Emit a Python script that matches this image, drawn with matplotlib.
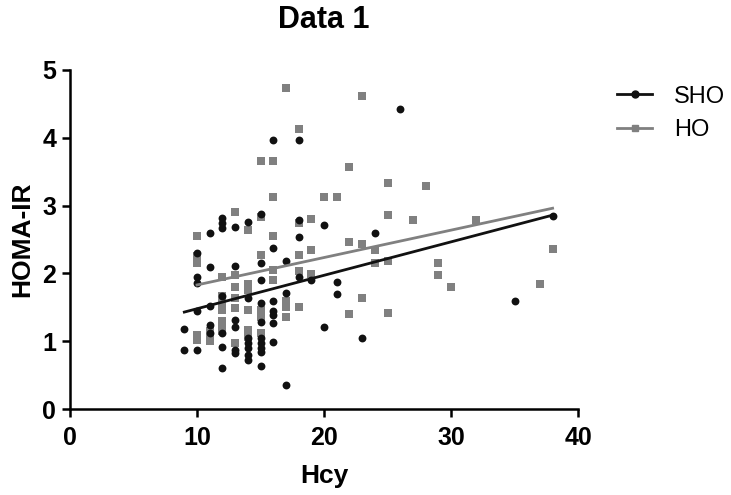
"""Scatter of HOMA-IR against Hcy for the SHO and HO groups, with linear fits."""

import matplotlib
matplotlib.use('Agg')
import matplotlib.pyplot as plt

plt.rcParams['font.family'] = ['Liberation Sans', 'DejaVu Sans']

# SHO group (black circles)
sho_x = [9, 9,
         10, 10, 10, 10, 10,
         11, 11, 11, 11, 11,
         12, 12, 12, 12, 12, 12, 12,
         13, 13, 13, 13, 13, 13,
         14, 14, 14, 14, 14, 14, 14,
         15, 15, 15, 15, 15, 15, 15, 15, 15, 15,
         16, 16, 16, 16, 16, 16, 16,
         17, 17, 17,
         18, 18, 18, 18,
         19, 20, 20, 21, 21, 23, 24, 26, 35, 38]
sho_y = [1.18, 0.87,
         2.30, 1.95, 1.86, 1.44, 0.87,
         2.60, 2.09, 1.52, 1.24, 1.12,
         2.82, 2.75, 2.67, 1.67, 1.12, 0.92, 0.60,
         2.69, 2.11, 1.31, 1.21, 0.87, 0.82,
         2.76, 1.64, 1.05, 0.97, 0.90, 0.80, 0.72,
         2.88, 2.15, 1.90, 1.56, 1.29, 1.05, 0.97, 0.90, 0.84, 0.63,
         3.97, 2.37, 1.60, 1.45, 1.38, 1.27, 0.99,
         2.19, 1.71, 0.35,
         3.97, 2.79, 2.54, 1.95,
         1.90, 2.71, 1.21, 1.87, 1.69, 1.05, 2.59, 4.43, 1.59, 2.85]

# HO group (grey squares)
ho_x = [10, 10, 10, 10, 10,
        11, 11, 11,
        12, 12, 12, 12, 12, 12, 12,
        13, 13, 13, 13, 13, 13,
        14, 14, 14, 14, 14, 14,
        15, 15, 15, 15, 15, 15,
        16, 16, 16, 16, 16,
        17, 17, 17, 17,
        18, 18, 18, 18, 18,
        19, 19, 19,
        20, 21, 22, 22, 22, 23, 23, 23, 24, 24,
        25, 25, 25, 25, 27, 28, 29, 29, 30, 32, 37, 38]
ho_y = [2.55, 2.25, 2.15, 1.09, 1.02,
        1.15, 1.05, 1.00,
        1.95, 1.66, 1.55, 1.46, 1.30, 1.24, 1.15,
        2.91, 1.98, 1.80, 1.63, 1.49, 0.97,
        2.64, 1.85, 1.75, 1.46, 1.16, 1.06,
        3.66, 2.83, 2.27, 1.46, 1.35, 1.12,
        3.66, 3.13, 2.55, 2.05, 1.90,
        4.73, 1.60, 1.50, 1.36,
        4.13, 2.74, 2.27, 2.03, 1.51,
        2.80, 2.35, 1.99,
        3.12, 3.13, 3.57, 2.46, 1.40, 4.61, 2.43, 1.63, 2.34, 2.15,
        3.33, 2.86, 2.18, 1.42, 2.79, 3.29, 2.15, 1.98, 1.80, 2.79, 1.85, 2.36]

# linear fits: (slope, intercept, x range)
sho_fit = (0.0493, 0.986, [9, 38])
ho_fit = (0.0404, 1.426, [10, 38])

BLACK = '#111111'
GREY = '#808080'

fig = plt.figure(figsize=(7.31, 4.95), dpi=100)
ax = fig.add_axes([0.0958, 0.1737, 0.6949, 0.6849])

ax.scatter(sho_x, sho_y, s=32, marker='o', color=BLACK, linewidths=0, clip_on=False, zorder=3)
ax.scatter(ho_x, ho_y, s=36, marker='s', color=GREY, linewidths=0, clip_on=False, zorder=2)

for (slope, icpt, xr), color in ((sho_fit, BLACK), (ho_fit, GREY)):
    ax.plot(xr, [slope * x + icpt for x in xr], color=color, linewidth=2.0, zorder=4)

ax.set_xlim(0, 40)
ax.set_ylim(0, 5)
ax.set_xticks([0, 10, 20, 30, 40])
ax.set_yticks([0, 1, 2, 3, 4, 5])
for side in ('top', 'right'):
    ax.spines[side].set_visible(False)
for side in ('left', 'bottom'):
    ax.spines[side].set_linewidth(1.8)
ax.tick_params(width=1.8, length=6, labelsize=18)
ax.tick_params(axis='x', pad=6)
ax.tick_params(axis='y', pad=4)
for lab in ax.get_xticklabels() + ax.get_yticklabels():
    lab.set_fontweight('bold')

ax.set_xlabel('Hcy', fontsize=19, fontweight='bold', labelpad=10)
ax.set_ylabel('HOMA-IR', fontsize=19, fontweight='bold', labelpad=6)
ax.set_title('Data 1', fontsize=22, fontweight='bold', pad=30)

# legend entries: line with marker, like the plotting program draws them
h1, = ax.plot([], [], color=BLACK, linewidth=2.0, marker='o', markersize=5)
h2, = ax.plot([], [], color=GREY, linewidth=2.0, marker='s', markersize=5)
fig.legend([h1, h2], ['SHO', 'HO'], loc='upper left', bbox_to_anchor=(0.815, 0.87),
           frameon=False, fontsize=17, handlelength=1.5, handletextpad=0.9,
           labelspacing=0.5)

fig.savefig('out.png')
